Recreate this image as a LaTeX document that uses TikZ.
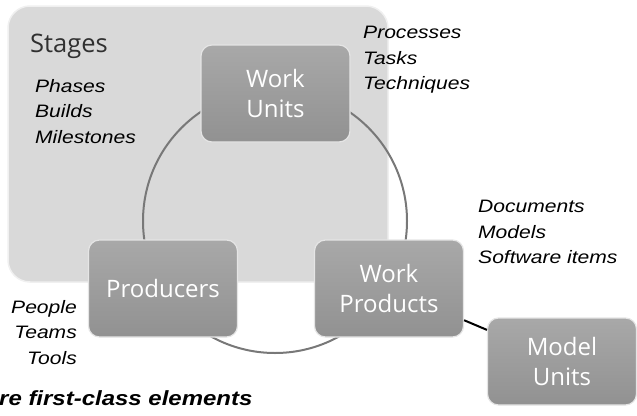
\documentclass[tikz,border=0pt]{standalone}
\usepackage{fontspec}
\setmainfont{Open Sans}
\newfontfamily\listfont[FakeStretch=1.17]{Liberation Sans}
\usetikzlibrary{positioning}
\definecolor{stagegray}{HTML}{D9D9D9}
\definecolor{ringgray}{HTML}{787878}
\definecolor{labelgray}{HTML}{303030}
\tikzset{
  unitbox/.style={rounded corners=11pt, minimum width=149pt, minimum height=97pt,
    top color=gray!68, bottom color=gray!86, draw=white!80!gray, line width=1.2pt,
    text=white, align=center, inner sep=0pt, font=\fontsize{24}{30}\selectfont},
  itemlist/.style={inner sep=0pt, align=left, text=black,
    font=\listfont\itshape\fontsize{18}{25.5}\selectfont},
}

\begin{document}
\begin{tikzpicture}[x=1pt,y=-1pt]
    \useasboundingbox (0,0) rectangle (637,415);

    % stages panel
    \draw[fill=stagegray, draw=gray!12, line width=1.5pt, rounded corners=22pt]
      (8,6) rectangle (388,282);
    \node[anchor=base west, inner sep=0pt, text=labelgray,
      font=\fontsize{25.5}{30}\selectfont] (stg) at (30,52) {Stages};

    % the cycle
    \coordinate (hub) at (275,221);
    \draw[ringgray, line width=2pt] (hub) circle[radius=132pt];

    \node[unitbox] (wu) at (275.5,93.5) {Work\\Units};
    \node[unitbox] (pr) at (163,288.5) {Producers};
    \node[unitbox] (wp) at (389,288.5) {Work\\Products};
    \node[unitbox, minimum height=87pt] (mu) at (562,361.5) {Model\\Units};

    \draw[black, line width=2pt] (wp) -- (mu);

    % item lists
    \node[itemlist, anchor=north west] (stgitems) at (35,79) {Phases\\Builds\\Milestones};
    \node[itemlist, anchor=north west] (wuitems) at (363,26) {Processes\\Tasks\\Techniques};
    \node[itemlist, anchor=north west] (wpitems) at (478,200) {Documents\\Models\\Software items};
    \node[itemlist, anchor=north east, align=right] (pritems) at (77,300) {People\\Teams\\Tools};

    \node[anchor=base west, inner sep=0pt,
      font=\listfont\bfseries\itshape\fontsize{20.5}{24}\selectfont] (tagline) at (-1,405)
      {re first-class elements};
\end{tikzpicture}
\end{document}
